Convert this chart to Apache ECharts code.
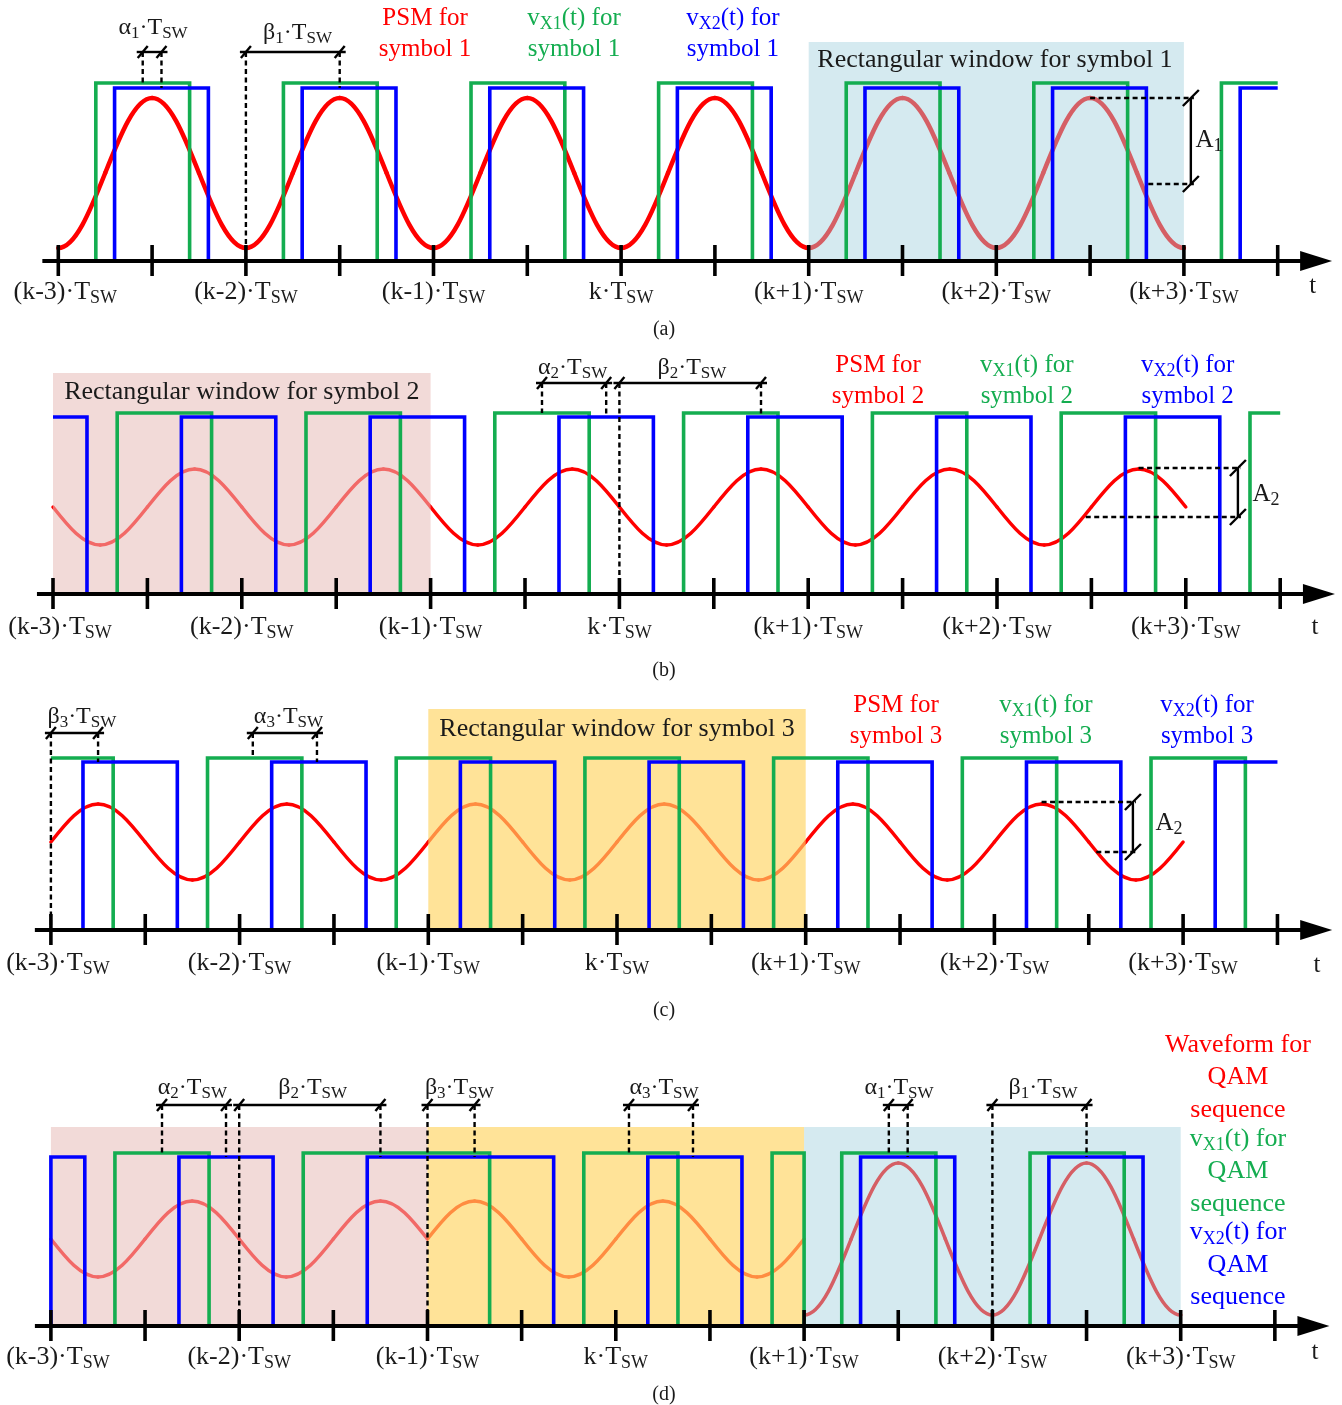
<!DOCTYPE html>
<html><head><meta charset="utf-8">
<script src="https://cdn.jsdelivr.net/npm/echarts@6/dist/echarts.min.js"></script>
<style>html,body{margin:0;padding:0;background:#fff;}#chart{width:1342px;height:1405px;}</style>
</head><body><div id="chart"></div>
<script>
// ================= DATA (time in units of Tsw relative to k; levels in plot units) =================
const tickT = [-3,-2.5,-2,-1.5,-1,-0.5,0,0.5,1,1.5,2,2.5,3,3.5];
const tickNameT = [-3,-2,-1,0,1,2,3];
const tickNames = ['(k-3)','(k-2)','(k-1)','k','(k+1)','(k+2)','(k+3)'];

// (a) symbol 1 — PSM key points (troughs / crossings / peaks)
const aSine = [[-3,13],[-2.75,88],[-2.5,163],[-2.25,88],[-2,13],[-1.75,88],[-1.5,163],[-1.25,88],[-1,13],[-0.75,88],[-0.5,163],[-0.25,88],[0,13],[0.25,88],[0.5,163],[0.75,88],[1,13],[1.25,88],[1.5,163],[1.75,88],[2,13],[2.25,88],[2.5,163],[2.75,88],[3,13]];
const aGreenEdges = [-2.8,-2.3,-1.8,-1.3,-0.8,-0.3,0.2,0.7,1.2,1.7,2.2,2.7,3.2];
const aBlueEdges  = [-2.7,-2.2,-1.7,-1.2,-0.7,-0.2,0.3,0.8,1.3,1.8,2.3,2.8,3.3];
const aHigh = [178, 173];                       // green, blue high level
const aDims = [[-2.55,-2.45,209,178,173],[-2,-1.5,209,0,173]];   // [tA,tB,lineLevel,endA,endB]
const aAmp  = [[3.037,163,77,2.5,2.81]];        // [tArrow, top, bottom, tTopStart, tBottomStart]
const aWindows = [[1,3,219]];

// (b) symbol 2
const bSine = [[-3,87],[-2.75,49],[-2.5,87],[-2.25,125],[-2,87],[-1.75,49],[-1.5,87],[-1.25,125],[-1,87],[-0.75,49],[-0.5,87],[-0.25,125],[0,87],[0.25,49],[0.5,87],[0.75,125],[1,87],[1.25,49],[1.5,87],[1.75,125],[2,87],[2.25,49],[2.5,87],[2.75,125],[3,87]];
const bGreenEdges = [-2.66,-2.16,-1.66,-1.16,-0.66,-0.16,0.34,0.84,1.34,1.84,2.34,2.84,3.34];
const bBlueEdges  = [-2.82,-2.32,-1.82,-1.32,-0.82,-0.32,0.18,0.68,1.18,1.68,2.18,2.68,3.18];
const bHigh = [181, 177];
const bDims = [[-0.41,-0.07,211,181,177],[0,0.75,211,0,177]];
const bAmp  = [[3.276,126,77,2.75,2.47]];
const bWindows = [[-3,-1,221]];

// (c) symbol 3
const cSine = [[-3,88],[-2.75,126],[-2.5,88],[-2.25,50],[-2,88],[-1.75,126],[-1.5,88],[-1.25,50],[-1,88],[-0.75,126],[-0.5,88],[-0.25,50],[0,88],[0.25,126],[0.5,88],[0.75,50],[1,88],[1.25,126],[1.5,88],[1.75,50],[2,88],[2.25,126],[2.5,88],[2.75,50],[3,88]];
const cGreenEdges = [-2.67,-2.17,-1.67,-1.17,-0.67,-0.17,0.33,0.83,1.33,1.83,2.33,2.83,3.33];
const cBlueEdges  = [-2.83,-2.33,-1.83,-1.33,-0.83,-0.33,0.17,0.67,1.17,1.67,2.17,2.67,3.17];
const cHigh = [172, 168];
const cDims = [[-3,-2.75,197,0,168],[-1.93,-1.59,197,172,168]];
const cAmp  = [[2.734,128,78,2.25,2.54]];
const cWindows = [[-1,1,221]];

// (d) QAM sequence
const dSine2 = [[-3,87],[-2.75,49],[-2.5,87],[-2.25,125],[-2,87],[-1.75,49],[-1.5,87],[-1.25,125],[-1,87]];
const dSine3 = [[-1,87],[-0.75,125],[-0.5,87],[-0.25,49],[0,87],[0.25,125],[0.5,87],[0.75,49],[1,87]];
const dSine1 = [[1,11],[1.25,87],[1.5,163],[1.75,87],[2,11],[2.25,87],[2.5,163],[2.75,87],[3,11]];
const dGreenEdges = [-2.66,-2.16,-1.66,-0.67,-0.17,0.33,0.83,1.0,1.2,1.7,2.2,2.7];
const dBlueEdges  = [-3,-2.82,-2.32,-1.82,-1.32,-0.33,0.17,0.67,1.3,1.8,2.3,2.8];
const dHigh = [173, 169];
const dDims = [[-2.41,-2.07,221,173,169],[-2,-1.25,221,0,169],[-1,-0.75,221,0,169],[0.07,0.41,221,173,169],[1.45,1.55,221,173,169],[2,2.5,221,0,169]];
const dWindows = [[-3,-1,199],[-1,1,199],[1,3,199]];

// ================= STYLE / LAYOUT =================
const FONT = "'Liberation Serif','Times New Roman',serif";
const RED = '#ff0000', GREEN = '#14ad50', BLUE = '#0000ff', INK = '#1a1a1a';
const WIN_BLUE = 'rgba(163,209,222,0.455)', WIN_PINK = 'rgba(232,189,185,0.557)', WIN_YEL = 'rgba(255,212,99,0.659)';
const TSW = '{m|·T}{s|SW}';
const lbl = (g, n) => `{m|${g}}{s|${n}}` + TSW;
const vx = (n, tail) => `{m|v}{s|X${n}}{m|(t) for}\n{m|${tail}}`;

const panels = [
  { top:0, bottom:320, axisY:261, x0:58.3, unit:187.6, sines:[[aSine,4.5]], green:[aGreenEdges,false], blue:[aBlueEdges,false], high:aHigh,
    windows:[[aWindows[0],WIN_BLUE]], dims:aDims, amp:aAmp, tickLv:-31,
    texts:[[3.687,-25,'{m|t}',INK,25],[0.229,-69,'{m|(a)}',INK,20],
      [-2.495,233,lbl('α','1'),INK,24],[-1.725,228,lbl('β','1'),INK,24],
      [-1.045,227.5,'{m|PSM for}\n{m|symbol 1}',RED,25],[-0.251,227.5,vx(1,'symbol 1'),GREEN,25],[0.596,227.5,vx(2,'symbol 1'),BLUE,25],
      [1.993,201,'{m|Rectangular window for symbol 1}',INK,26],[3.134,121,'{m|A}{s|1}',INK,25]] },
  { top:340, bottom:660, axisY:594, x0:53, unit:188.8, sines:[[bSine,3.5]], green:[bGreenEdges,false], blue:[bBlueEdges,true], high:bHigh,
    windows:[[bWindows[0],WIN_PINK]], dims:bDims, amp:bAmp, tickLv:-33,
    texts:[[3.684,-33,'{m|t}',INK,25],[0.236,-77,'{m|(b)}',INK,20],
      [-0.248,226,lbl('α','2'),INK,24],[0.384,226,lbl('β','2'),INK,24],
      [1.370,213.5,'{m|PSM for}\n{m|symbol 2}',RED,25],[2.158,213.5,vx(1,'symbol 2'),GREEN,25],[3.01,213.5,vx(2,'symbol 2'),BLUE,25],
      [-2.0,202,'{m|Rectangular window for symbol 2}',INK,26],[3.425,100,'{m|A}{s|2}',INK,25]] },
  { top:680, bottom:1000, axisY:930, x0:50.9, unit:188.7, sines:[[cSine,3.5]], green:[cGreenEdges,true], blue:[cBlueEdges,false], high:cHigh,
    windows:[[cWindows[0],WIN_YEL]], dims:cDims, amp:cAmp, tickLv:-33,
    texts:[[3.71,-35,'{m|t}',INK,25],[0.249,-81,'{m|(c)}',INK,20],
      [-2.836,213,lbl('β','3'),INK,24],[-1.741,213,lbl('α','3'),INK,24],
      [1.4785,209.5,'{m|PSM for}\n{m|symbol 3}',RED,25],[2.273,209.5,vx(1,'symbol 3'),GREEN,25],[3.127,209.5,vx(2,'symbol 3'),BLUE,25],
      [0,201,'{m|Rectangular window for symbol 3}',INK,26],[2.925,107,'{m|A}{s|2}',INK,25]] },
  { top:1020, bottom:1400, axisY:1326, x0:50.9, unit:188.3, sines:[[dSine2,3.5],[dSine3,3.5],[dSine1,3.5]], green:[dGreenEdges,false], blue:[dBlueEdges,false], high:dHigh,
    windows:[[dWindows[0],WIN_PINK],[dWindows[1],WIN_YEL],[dWindows[2],WIN_BLUE]], dims:dDims, amp:[], tickLv:-31,
    texts:[[3.713,-26,'{m|t}',INK,25],[0.256,-69,'{m|(d)}',INK,20],
      [-2.249,238,lbl('α','2'),INK,24],[-1.610,238,lbl('β','2'),INK,24],[-0.831,238,lbl('β','3'),INK,24],
      [0.256,238,lbl('α','3'),INK,24],[1.504,238,lbl('α','1'),INK,24],[2.269,238,lbl('β','1'),INK,24],
      [3.304,248.5,'{m|Waveform for}\n{m|QAM}\n{m|sequence}',RED,26,18,32.5],
      [3.304,154.5,'{m|v}{s|X1}{m|(t) for}\n{m|QAM}\n{m|sequence}',GREEN,26,18,32.5],
      [3.304,61,'{m|v}{s|X2}{m|(t) for}\n{m|QAM}\n{m|sequence}',BLUE,26,18,32.5]] }
];

// ================= BUILDERS =================
function stepPoints(edges, startHigh, H) {
  const pts = []; let lv = startHigh ? H : 0;
  if (startHigh) pts.push([tickT[0], H]);
  edges.forEach(e => { pts.push([e, lv]); lv = lv ? 0 : H; pts.push([e, lv]); });
  if (lv) pts.push([tickT[tickT.length-1], H]);
  return pts;
}
const base = i => ({ xAxisIndex:i, yAxisIndex:i, silent:true, animation:false });
const L = (x1,y1,x2,y2,style) => ({ type:'line', shape:{x1,y1,x2,y2}, style });

function sineSeries(i, pts, color, width) {
  const vs = pts.map(p => p[1]); const c = (Math.max(...vs) + Math.min(...vs)) / 2;
  return Object.assign(base(i), { type:'custom', z:1, clip:false, data:pts,
    renderItem(params, api) {
      const k = params.dataIndex; if (k >= pts.length - 1) return null;
      const a = pts[k], b = pts[k+1];
      const p0 = api.coord(a), p3 = api.coord(b);
      const dx = p3[0]-p0[0], dy = p3[1]-p0[1];
      let p1, p2;
      if (Math.abs(b[1]-c) > Math.abs(a[1]-c)) { p1 = [p0[0]+0.3261*dx, p0[1]+0.5123*dy]; p2 = [p0[0]+0.6381*dx, p3[1]]; }
      else { p1 = [p0[0]+0.3619*dx, p0[1]]; p2 = [p0[0]+0.6739*dx, p0[1]+0.4877*dy]; }
      return { type:'bezierCurve', shape:{x1:p0[0],y1:p0[1],cpx1:p1[0],cpy1:p1[1],cpx2:p2[0],cpy2:p2[1],x2:p3[0],y2:p3[1]},
        style:{ stroke:color, lineWidth:width, fill:'none', lineCap:'round' } };
    } });
}
function windowSeries(i, win, color) {
  return Object.assign(base(i), { type:'custom', z:2, clip:false, data:[[win[0], win[2]]],
    renderItem(params, api) {
      const p = api.coord([win[0], win[2]]), q = api.coord([win[1], 0]);
      return { type:'rect', shape:{x:p[0], y:p[1], width:q[0]-p[0], height:q[1]-p[1]}, style:{ fill:color } };
    } });
}
function waveSeries(i, spec, H, color) {
  return Object.assign(base(i), { type:'line', z:3, clip:false, data:stepPoints(spec[0], spec[1], H),
    showSymbol:false, symbol:'none', lineStyle:{ color, width:3.6, join:'miter', cap:'butt' } });
}
const SOLID = { stroke:'#000', lineWidth:2.4, fill:'none' };
const DASH = { stroke:'#000', lineWidth:2.4, fill:'none', lineDash:[5,3.5] };
function dimSeries(i, dims) {
  return Object.assign(base(i), { type:'custom', z:4, clip:false, data:dims.map(d => [d[0], d[2]]),
    renderItem(params, api) {
      const d = dims[params.dataIndex];
      const a = api.coord([d[0], d[2]]), b = api.coord([d[1], d[2]]);
      const ae = api.coord([d[0], d[3]]), be = api.coord([d[1], d[4]]);
      return { type:'group', children:[
        L(a[0]-6, a[1], b[0]+6, b[1], SOLID),
        L(a[0]-5, a[1]+6, a[0]+5, a[1]-6, SOLID),
        L(b[0]-5, b[1]+6, b[0]+5, b[1]-6, SOLID),
        L(a[0], a[1], ae[0], ae[1], DASH),
        L(b[0], b[1], be[0], be[1], DASH) ] };
    } });
}
function ampSeries(i, amp) {
  return Object.assign(base(i), { type:'custom', z:4, clip:false, data:amp.map(d => [d[0], d[1]]),
    renderItem(params, api) {
      const d = amp[params.dataIndex];
      const t = api.coord([d[0], d[1]]), b = api.coord([d[0], d[2]]);
      const ts = api.coord([d[3], d[1]]), bs = api.coord([d[4], d[2]]);
      return { type:'group', children:[
        L(ts[0], ts[1], t[0]+3, t[1], DASH),
        L(bs[0], bs[1], b[0]+3, b[1], DASH),
        L(t[0], t[1], b[0], b[1], SOLID),
        L(t[0]-8, t[1]+8, t[0]+8, t[1]-8, SOLID),
        L(b[0]-8, b[1]+8, b[0]+8, b[1]-8, SOLID) ] };
    } });
}
function axisSeries(i) {
  return [
    Object.assign(base(i), { type:'line', z:6, clip:false, data:[[-3.085,0],[3.70,0]], showSymbol:false, symbol:'none', lineStyle:{ color:'#000', width:4 } }),
    Object.assign(base(i), { type:'custom', z:6, clip:false, data:[[3.79,0]],
      renderItem(params, api) { const p = api.coord([3.79, 0]);
        return { type:'polygon', shape:{ points:[[p[0],p[1]],[p[0]-32,p[1]-10],[p[0]-32,p[1]+10]] }, style:{ fill:'#000' } }; } }),
    Object.assign(base(i), { type:'custom', z:6, clip:false, data:tickT.map(t => [t, 0]),
      renderItem(params, api) { const p = api.coord([tickT[params.dataIndex], 0]);
        return L(p[0], p[1]-16, p[0], p[1]+15, { stroke:'#000', lineWidth:3.6 }); } })
  ];
}
function textSeries(i, items) {
  return Object.assign(base(i), { type:'custom', z:7, clip:false, data:items.map(it => [it[0], it[1]]),
    renderItem(params, api) {
      const it = items[params.dataIndex];
      const p = api.coord([it[0], it[1]]);
      const color = it[3], size = it[4], sub = it[5] || Math.round(size * 0.7), lh = it[6] || 31;
      return { type:'text', x:p[0], y:p[1], style:{ text:it[2], align:'center', verticalAlign:'middle',
        fontFamily:FONT, fontSize:size, fill:color, lineHeight:lh,
        rich:{ m:{ fill:color, fontFamily:FONT, fontSize:size, lineHeight:lh, verticalAlign:'middle' },
               s:{ fill:color, fontFamily:FONT, fontSize:sub, lineHeight:lh, verticalAlign:'middle', padding:[Math.round(size*0.5),0,0,0] } } } };
    } });
}

// ================= OPTION =================
const grid = [], xAxis = [], yAxis = [], series = [];
panels.forEach((P, i) => {
  grid.push({ left:0, right:0, top:P.top, height:P.bottom - P.top });
  const xmin = tickT[0] - P.x0 / P.unit;
  xAxis.push({ type:'value', gridIndex:i, min:xmin, max:xmin + 1342 / P.unit, show:false });
  yAxis.push({ type:'value', gridIndex:i, min:-(P.bottom - P.axisY), max:P.axisY - P.top, show:false });
  P.sines.forEach(s => series.push(sineSeries(i, s[0], RED, s[1])));
  P.windows.forEach(w => series.push(windowSeries(i, w[0], w[1])));
  series.push(waveSeries(i, P.green, P.high[0], GREEN));
  series.push(waveSeries(i, P.blue, P.high[1], BLUE));
  series.push(dimSeries(i, P.dims));
  if (P.amp.length) series.push(ampSeries(i, P.amp));
  axisSeries(i).forEach(s => series.push(s));
  const tickTexts = tickNameT.map((t, j) => [t + (j === 0 ? 7 / P.unit : 0), P.tickLv, `{m|${tickNames[j]}·T}{s|SW}`, INK, 26, 18]);
  series.push(textSeries(i, tickTexts.concat(P.texts)));
});

const chart = echarts.init(document.getElementById('chart'));
chart.setOption({ animation:false, backgroundColor:'#fff', grid, xAxis, yAxis, series });
</script></body></html>
